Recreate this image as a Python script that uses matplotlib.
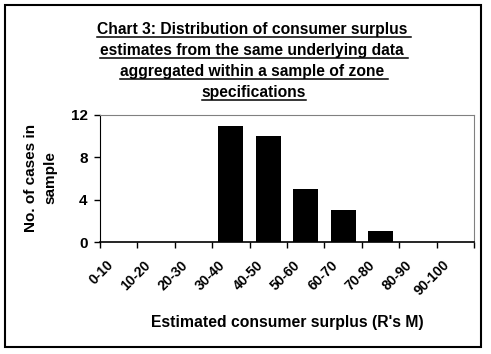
import matplotlib
matplotlib.use("Agg")
import matplotlib.pyplot as plt
from matplotlib.lines import Line2D
from matplotlib.patches import Rectangle
from matplotlib.transforms import ScaledTranslation

plt.rcParams['font.family'] = ['Liberation Sans', 'DejaVu Sans']
plt.rcParams['font.weight'] = 'bold'

# data
categories = ["0-10", "10-20", "20-30", "30-40", "40-50",
              "50-60", "60-70", "70-80", "80-90", "90-100"]
counts = [0, 0, 0, 11, 10, 5, 3, 1, 0, 0]
y_ticks = [0, 4, 8, 12]
title_lines = ["Chart 3: Distribution of consumer surplus ",
               "estimates from the same underlying data ",
               "aggregated within a sample of zone ",
               "specifications"]

W, H = 491, 354
fig = plt.figure(figsize=(W / 100, H / 100), dpi=100)
ax = fig.add_axes([100 / W, 1 - 242 / H, 374 / W, 127 / H])

x = list(range(len(categories)))
ax.bar([i + 0.5 for i in x], counts, width=0.67, color="black")
ax.set_xlim(0, len(categories))
ax.set_ylim(0, 12)
ax.set_yticks(y_ticks)
ax.set_yticklabels([str(v) for v in y_ticks], fontsize=11, fontweight='bold')

# category boundaries carry the tick marks, labels sit at the centres
ax.set_xticks(range(len(categories) + 1))
ax.set_xticklabels([])
ax.set_xticks([i + 0.5 for i in x], minor=True)
ax.set_xticklabels(categories, minor=True, rotation=45, ha='right', va='center',
                   rotation_mode='anchor', fontsize=10, fontweight='bold')
ax.tick_params(axis='x', which='minor', length=0, pad=15)
ax.tick_params(axis='both', which='major', length=4, width=1, direction='out')
ax.tick_params(axis='y', pad=5)
shift = ScaledTranslation(-5.5 / 72, 0, fig.dpi_scale_trans)
for lab in ax.get_xticklabels(minor=True):
    lab.set_transform(lab.get_transform() + shift)

for side in ['top', 'right']:
    ax.spines[side].set_color('#808080')
for side in ['left', 'bottom']:
    ax.spines[side].set_color('black')
ax.spines['bottom'].set_linewidth(1.2)

fig.text(40.5 / W, 1 - 178 / H, "No. of cases in\nsample", rotation=90,
         ha='center', va='center', multialignment='center',
         fontsize=11, fontweight='bold', linespacing=1.5)
fig.text(287 / W, 1 - 322 / H, "Estimated consumer surplus (R's M)",
         ha='center', va='center', fontsize=11.3, fontweight='bold')

# title with underline
renderer = fig.canvas.get_renderer()
baselines = [34, 55, 76, 97]
for line, yp in zip(title_lines, baselines):
    t = fig.text(254 / W, 1 - yp / H, line, ha='center', va='baseline',
                 fontsize=11.25, fontweight='bold')
    bb = t.get_window_extent(renderer=renderer)
    uy = 1 - (yp + 2.5) / H
    fig.add_artist(Line2D([bb.x0 / W, bb.x1 / W], [uy, uy],
                          color='black', linewidth=1.1))

# outer frame
fig.add_artist(Rectangle((5 / W, 7 / H), 476 / W, 342 / H, fill=False,
                         edgecolor='black', linewidth=1.5,
                         transform=fig.transFigure))

fig.savefig("out.png", dpi=100)
